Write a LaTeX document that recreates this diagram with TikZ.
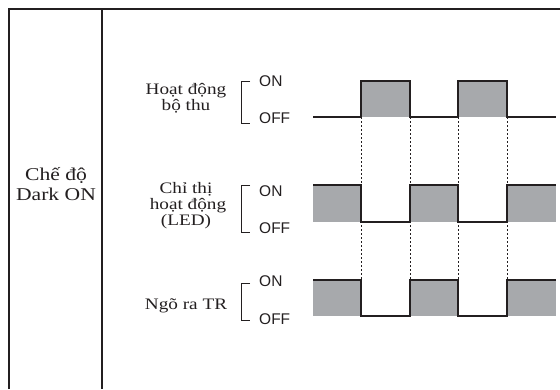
\documentclass[tikz,border=0pt]{standalone}
\usepackage{fontspec}
\newfontfamily\labfont[FakeStretch=1.2]{Liberation Serif}
\newfontfamily\lvlfont{Liberation Sans}
\definecolor{ink}{HTML}{231F20}
\definecolor{fillgray}{HTML}{A7A9AC}
\tikzset{
  frame/.style={draw=ink, line width=2pt},
  divider/.style={draw=ink, line width=1.3pt},
  wave/.style={draw=ink, line width=1.5pt, line join=miter},
  pulse/.style={fill=fillgray},
  guide/.style={draw=ink, line width=0.8pt, dash pattern=on 2pt off 2pt},
  bracket/.style={draw=ink, line width=0.9pt},
  lab/.style={font=\labfont\fontsize{16}{15}\selectfont, text=ink, inner sep=0pt, anchor=base},
  biglab/.style={font=\labfont\fontsize{18}{20}\selectfont, text=ink, inner sep=0pt, anchor=base},
  lvl/.style={font=\lvlfont\fontsize{15.5}{15}\selectfont, text=ink, inner sep=0pt, anchor=base west}
}
\begin{document}
\begin{tikzpicture}[x=1pt,y=-1pt]
\useasboundingbox (0,0) rectangle (560,389);
\fill[white] (0,0) rectangle (560,389);
% frame
\draw[frame] (9,389) -- (9,9) -- (560,9);
\draw[divider] (102,9) -- (102,389);
% left label
\node[biglab] (m1) at (56,180) {Chế độ};
\node[biglab] (m2) at (56,200) {Dark ON};
% guides
\foreach \x in {361,410,458,507} \draw[guide] (\x,117) -- (\x,280);
% row 1
\fill[pulse] (361,81) rectangle (410,117);
\fill[pulse] (458,81) rectangle (507,117);
\draw[wave] (313,117) -- (361,117) -- (361,81) -- (410,81) -- (410,117) -- (458,117) -- (458,81) -- (507,81) -- (507,117) -- (556,117);
% row 2
\fill[pulse] (313,185) rectangle (361,222);
\fill[pulse] (410,185) rectangle (458,222);
\fill[pulse] (507,185) rectangle (556,222);
\draw[wave] (313,185) -- (361,185) -- (361,222) -- (410,222) -- (410,185) -- (458,185) -- (458,222) -- (507,222) -- (507,185) -- (556,185);
% row 3
\fill[pulse] (313,280) rectangle (361,316);
\fill[pulse] (410,280) rectangle (458,316);
\fill[pulse] (507,280) rectangle (556,316);
\draw[wave] (313,280) -- (361,280) -- (361,316) -- (410,316) -- (410,280) -- (458,280) -- (458,316) -- (507,316) -- (507,280) -- (556,280);
% labels row 1
\node[lab] (a1) at (186,94) {Hoạt động};
\node[lab] (a2) at (186,110) {bộ thu};
\draw[bracket] (250,81) -- (241,81) -- (241,123) -- (250,123);
\node[lvl] (a3) at (259,86.5) {ON};
\node[lvl] (a4) at (259,123) {OFF};
% labels row 2
\node[lab] (b1) at (186,193) {Chỉ thị};
\node[lab] (b2) at (188,209) {hoạt động};
\node[lab] (b3) at (186,225) {(LED)};
\draw[bracket] (250,185) -- (241,185) -- (241,232) -- (250,232);
\node[lvl] (b4) at (259,196) {ON};
\node[lvl] (b5) at (259,233) {OFF};
% labels row 3
\node[lab] (c1) at (186,309) {Ngõ ra TR};
\draw[bracket] (250,283) -- (241,283) -- (241,320) -- (250,320);
\node[lvl] (c2) at (259,286) {ON};
\node[lvl] (c3) at (259,324) {OFF};
\end{tikzpicture}
\end{document}
